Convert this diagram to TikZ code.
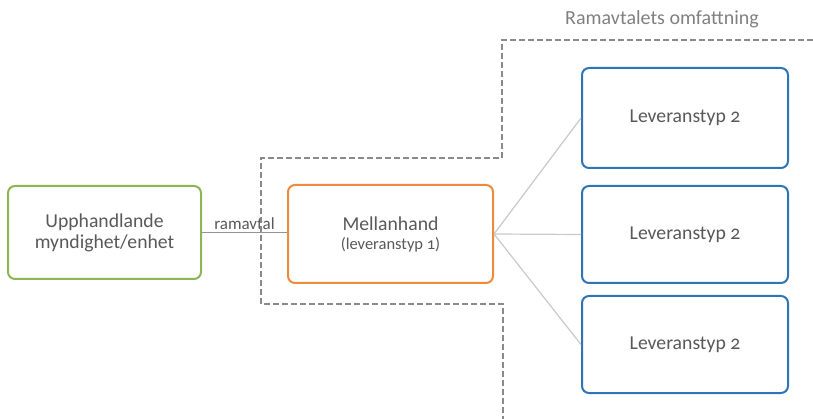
\documentclass[tikz,border=0pt]{standalone}
\usepackage{fontspec}
\setmainfont{Carlito}[Numbers=OldStyle]
\definecolor{txt}{HTML}{595959}
\definecolor{grn}{HTML}{8DB653}
\definecolor{org}{HTML}{EE8A3E}
\definecolor{blu}{HTML}{2E75B6}
\definecolor{dsh}{HTML}{8A8A8A}
\definecolor{lnk}{HTML}{C9C9C9}
\begin{document}
\begin{tikzpicture}[x=1pt,y=-1pt,
  box/.style={draw, line width=2pt, rounded corners=7pt, fill=white, inner sep=0pt, align=center, text=txt, font=\fontsize{19.7}{21}\selectfont},
  fan/.style={draw=lnk, line width=1.2pt},
  frame/.style={draw=dsh, line width=2pt, dash pattern=on 6pt off 3pt}]
\useasboundingbox (0,0) rectangle (813,419);
\node[box, draw=grn, minimum width=193pt, minimum height=93pt] (a) at (104.5,232.5) {Upphandlande\\myndighet/enhet};
\node[box, draw=org, minimum width=205pt, minimum height=98pt] (m) at (390.5,234) {Mellanhand\\[-2pt]{\fontsize{16.5}{18}\selectfont(leveranstyp 1)}};
\node[box, draw=blu, minimum width=206pt, minimum height=100pt] (b1) at (685,118) {Leveranstyp 2};
\node[box, draw=blu, minimum width=206pt, minimum height=97pt] (b2) at (685,234.5) {Leveranstyp 2};
\node[box, draw=blu, minimum width=206pt, minimum height=97pt] (b3) at (685,344.5) {Leveranstyp 2};
\draw[draw=gray!85, line width=1.5pt] (a.east) -- node[above=-1pt, text=txt, font=\fontsize{17}{19}\selectfont] (lab) {ramavtal} (a.east -| m.west);
\draw[fan] (m.east) -- (b1.west);
\draw[fan] (m.east) -- (b2.west);
\draw[fan] (m.east) -- (b3.west);
\coordinate (f1) at (813,40);
\coordinate (f2) at (502,40);
\coordinate (f3) at (502,158);
\coordinate (f4) at (261,158);
\coordinate (f5) at (261,304);
\coordinate (f6) at (503,304);
\coordinate (f7) at (503,419);
\draw[frame] (f1) -- (f2) -- (f3) -- (f4) -- (f5) -- (f6) -- (f7);
\node[text=gray, font=\fontsize{20}{22}\selectfont] (t) at (662,19) {Ramavtalets omfattning};
\end{tikzpicture}
\end{document}
